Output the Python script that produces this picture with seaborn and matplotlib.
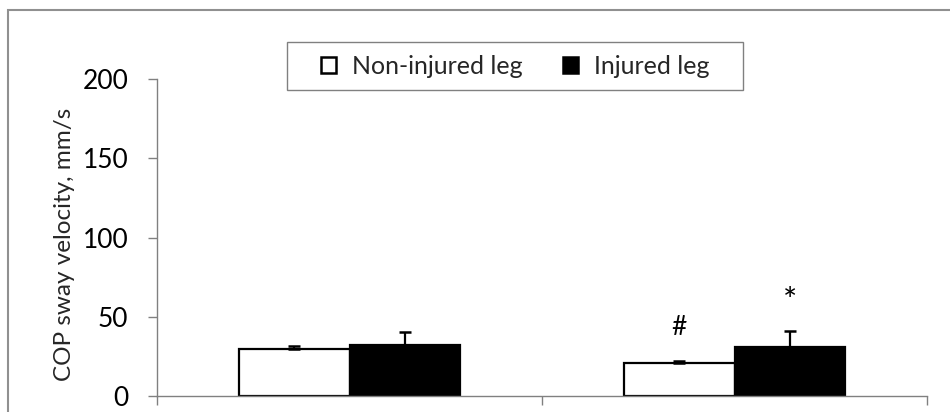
import matplotlib
matplotlib.use("Agg")
import matplotlib.pyplot as plt
import seaborn as sns
import pandas as pd
import numpy as np
from matplotlib.patches import Rectangle

# ---- data ----
conditions = ["Condition 1", "Condition 2"]
legs = ["Non-injured leg", "Injured leg"]
non_injured = [29.5, 21.0]
injured = [32.0, 31.0]
non_injured_sd = [2.0, 1.3]
injured_sd = [8.6, 10.0]
marks_non = ["", "#"]
marks_inj = ["", "*"]
yticks = [0, 50, 100, 150, 200]
ylabel = "COP sway velocity, mm/s"

df = pd.DataFrame({
    "condition": conditions * 2,
    "leg": [legs[0]] * len(conditions) + [legs[1]] * len(conditions),
    "value": non_injured + injured,
})

sns.set_theme(style="white")
plt.rcParams['font.family'] = ['Lato', 'DejaVu Sans']

W, H = 950, 412
fig = plt.figure(figsize=(W / 100, H / 100), dpi=100)
ax = fig.add_axes([157 / W, 16 / H, 770 / W, 317 / H])

sns.barplot(data=df, x="condition", y="value", hue="leg", order=conditions,
            hue_order=legs, palette={legs[0]: "white", legs[1]: "black"},
            edgecolor="black", linewidth=1.6, width=0.575, errorbar=None,
            saturation=1, ax=ax)

mark_sizes = {"#": 19, "*": 24}
mark_offsets = {"#": 21, "*": 18}
for cont, sds, marks in zip(ax.containers, [non_injured_sd, injured_sd],
                            [marks_non, marks_inj]):
    xs = [p.get_x() + p.get_width() / 2 for p in cont]
    hs = [p.get_height() for p in cont]
    ax.errorbar(xs, hs, yerr=[np.zeros(len(sds)), sds], fmt="none",
                ecolor="black", elinewidth=1.6, capsize=4, capthick=1.8,
                zorder=5)
    for x, h, s, m in zip(xs, hs, sds, marks):
        if m:
            ax.text(x, h + s + mark_offsets[m], m, ha="center", va="center",
                    fontsize=mark_sizes[m], color="black")

ax.set_ylim(0, 200)
ax.set_xlim(-0.5, 1.5)
ax.set_yticks(yticks)
ax.set_yticklabels([str(t) for t in yticks], fontsize=19)
ax.set_xticks([-0.5, 0.5, 1.5])
ax.set_xticklabels(["", "", ""])
ax.set_xlabel("")
ax.set_ylabel(ylabel, fontsize=17.5)
ax.yaxis.set_label_coords(-0.107, 0.478)

for side in ["top", "right"]:
    ax.spines[side].set_visible(False)
for side in ["left", "bottom"]:
    ax.spines[side].set_color("#808080")
    ax.spines[side].set_linewidth(1.0)
ax.tick_params(axis="both", direction="out", length=6.5, width=1.0,
               color="#808080", labelcolor="black")
ax.tick_params(axis="y", pad=14, left=True)
ax.tick_params(axis="x", bottom=True)

handles, labels = ax.get_legend_handles_labels()
if ax.get_legend() is not None:
    ax.get_legend().remove()
for h in handles:
    h.set_linewidth(1.8)
    h.set_edgecolor("black")
lx0, lx1, ly0, ly1 = 287, 743, 42, 90
leg = fig.legend(handles, labels, loc="center",
                 bbox_to_anchor=((lx0 + lx1) / 2 / W, 1 - (ly0 + ly1) / 2 / H),
                 bbox_transform=fig.transFigure, ncol=2, fontsize=18,
                 frameon=False, handlelength=0.6,
                 handleheight=0.6, handletextpad=0.65, columnspacing=1.6,
                 borderpad=0.3, borderaxespad=0)

fig.patches.append(Rectangle((lx0 / W, 1 - ly1 / H), (lx1 - lx0) / W,
                             (ly1 - ly0) / H, transform=fig.transFigure,
                             fill=False, edgecolor="#808080", linewidth=1.0,
                             figure=fig))
fig.patches.append(Rectangle((8 / W, -0.2), 1.5, 1 - 10 / H + 0.2,
                             transform=fig.transFigure, fill=False,
                             edgecolor="#909090", linewidth=1.5,
                             figure=fig))

fig.savefig("out.png", dpi=100)
